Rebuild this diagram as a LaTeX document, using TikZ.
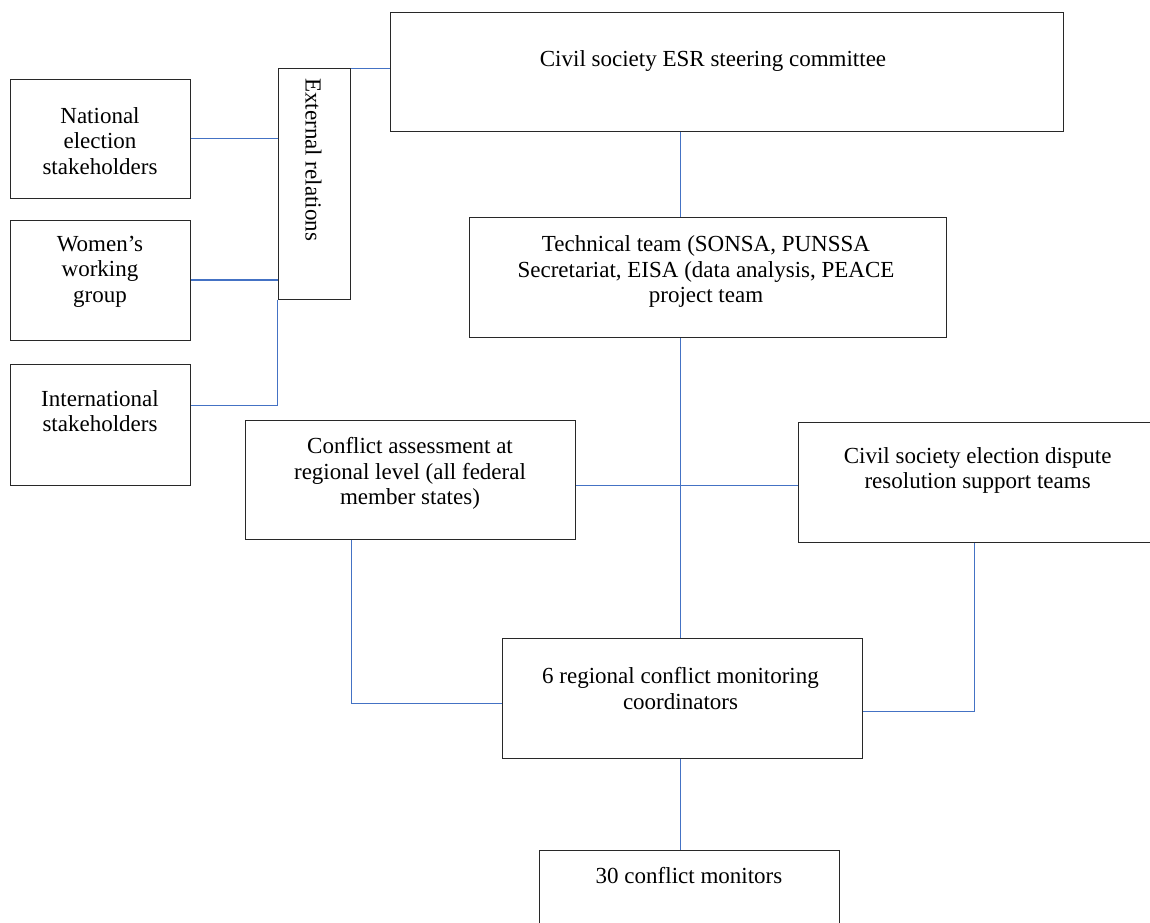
\documentclass[tikz,border=0pt]{standalone}
\usepackage{fontspec}
\setmainfont{Liberation Serif}
\definecolor{lineblue}{RGB}{68,114,196}
\definecolor{boxline}{RGB}{40,40,40}
\begin{document}
\begin{tikzpicture}[x=1pt,y=-1pt,
  box/.style={draw=boxline, line width=1pt, rectangle, inner sep=0pt, fill=none},
  lbl/.style={inner sep=0pt, align=center, anchor=north, font=\fontsize{23}{25.5}\selectfont},
  link/.style={draw=lineblue, line width=1.1pt}]
\useasboundingbox (0,0) rectangle (1150,922);
\clip (0,0) rectangle (1150,922);
% boxes
\node[box, minimum width=673pt, minimum height=119pt] (steer) at (726.5,71.5) {};
\node[box, minimum width=72pt, minimum height=230.3pt] (ext) at (314,183.85) {};
\node[box, minimum width=180pt, minimum height=119pt] (nat) at (100,138.5) {};
\node[box, minimum width=180pt, minimum height=120pt] (wom) at (100,280) {};
\node[box, minimum width=180pt, minimum height=120.7pt] (intl) at (100,424.65) {};
\node[box, minimum width=477pt, minimum height=120.4pt] (tech) at (708.2,277.5) {};
\node[box, minimum width=330.7pt, minimum height=119.7pt] (conf) at (410.4,479.9) {};
\node[box, minimum width=356.3pt, minimum height=120.3pt] (disp) at (976.9,482.15) {};
\node[box, minimum width=360pt, minimum height=120pt] (reg) at (682.3,698.3) {};
\node[box, minimum width=300pt, minimum height=120pt] (mon) at (689.7,910.3) {};
% texts
\node[lbl] (steer-t) at (713,50) {Civil society ESR steering committee};
\node[lbl, rotate=-90, anchor=west] (ext-t) at (313.5,78) {External relations};
\node[lbl] (nat-t) at (100,107.3) {National\\election\\stakeholders};
\node[lbl] (wom-t) at (100,235.7) {Women’s\\working\\group};
\node[lbl] (intl-t) at (100,390) {International\\stakeholders};
\node[lbl] (tech-t) at (706,235.7) {Technical team (SONSA, PUNSSA\\Secretariat, EISA (data analysis, PEACE\\project team};
\node[lbl] (conf-t) at (410,437.3) {Conflict assessment at\\regional level (all federal\\member states)};
\node[lbl] (disp-t) at (977.6,447) {Civil society election dispute\\resolution support teams};
\node[lbl] (reg-t) at (680.5,667.3) {6 regional conflict monitoring\\coordinators};
\node[lbl] (mon-t) at (689,867) {30 conflict monitors};
% helper coordinates
\coordinate (vx) at (680.5,0);
\coordinate (cx) at (351.5,0);
\coordinate (dx) at (974.5,0);
% connectors
\draw[link] (steer.south -| vx) -- (tech.north -| vx);
\draw[link] (ext.north east) -- (ext.north east -| steer.west);
\draw[link] (nat.east) -- (nat.east -| ext.west);
\draw[link] (wom.east) -- (wom.east -| ext.west);
\draw[link] (ext.south west) |- ([yshift=19.15pt]intl.east);
\draw[link] (tech.south -| vx) -- (reg.north -| vx);
\draw[link] ([yshift=-5.6pt]conf.east) -- ([yshift=-5.6pt]conf.east -| disp.west);
\draw[link] (conf.south -| cx) |- ([yshift=-5.2pt]reg.west);
\draw[link] (disp.south -| dx) |- ([yshift=-13.2pt]reg.east);
\draw[link] (reg.south -| vx) -- (mon.north -| vx);
\end{tikzpicture}
\end{document}
